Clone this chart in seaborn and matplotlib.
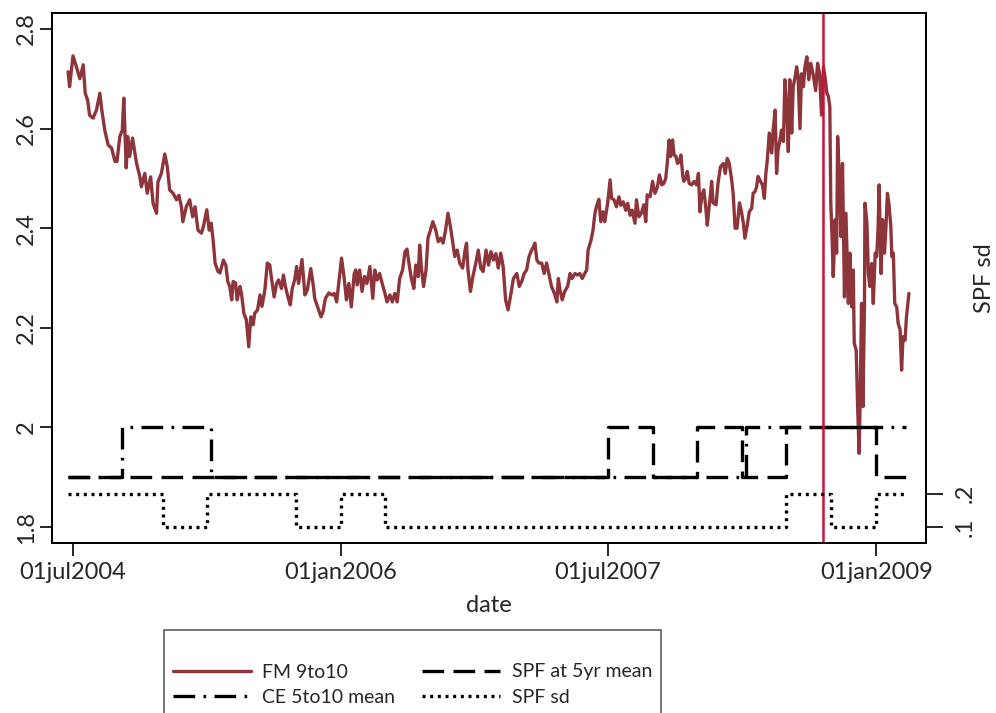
#!/usr/bin/env python3
# -*- coding: utf-8 -*-
# FM 9to10 forward rate against survey measures, 2004-2009

import seaborn as sns
import matplotlib
matplotlib.use('Agg')
import matplotlib.pyplot as plt
import pandas as pd

# FM 9to10
fm_dates = [
    '2004-06-21', '2004-06-24', '2004-07-01', '2004-07-08', '2004-07-15', '2004-07-22', '2004-07-26', '2004-07-31',
    '2004-08-04', '2004-08-11', '2004-08-18', '2004-08-25', '2004-08-29', '2004-09-04', '2004-09-11', '2004-09-18',
    '2004-09-25', '2004-09-29', '2004-10-05', '2004-10-10', '2004-10-13', '2004-10-18', '2004-10-21', '2004-10-25',
    '2004-10-31', '2004-11-08', '2004-11-15', '2004-11-18', '2004-11-25', '2004-11-30', '2004-12-07', '2004-12-12',
    '2004-12-19', '2004-12-22', '2004-12-29', '2005-01-05', '2005-01-10', '2005-01-15', '2005-01-22', '2005-01-29',
    '2005-02-03', '2005-02-08', '2005-02-11', '2005-02-18', '2005-02-25', '2005-03-03', '2005-03-08', '2005-03-14',
    '2005-03-21', '2005-03-25', '2005-04-01', '2005-04-06', '2005-04-10', '2005-04-14', '2005-04-18', '2005-04-24',
    '2005-04-28', '2005-05-05', '2005-05-10', '2005-05-14', '2005-05-18', '2005-05-22', '2005-05-25', '2005-05-30',
    '2005-06-02', '2005-06-08', '2005-06-11', '2005-06-16', '2005-06-21', '2005-06-26', '2005-06-30', '2005-07-05',
    '2005-07-08', '2005-07-14', '2005-07-19', '2005-07-23', '2005-07-29', '2005-08-03', '2005-08-08', '2005-08-12',
    '2005-08-17', '2005-08-22', '2005-08-26', '2005-09-01', '2005-09-05', '2005-09-09', '2005-09-15', '2005-09-19',
    '2005-09-23', '2005-09-28', '2005-10-02', '2005-10-06', '2005-10-13', '2005-10-19', '2005-10-24', '2005-10-31',
    '2005-11-05', '2005-11-08', '2005-11-15', '2005-11-21', '2005-11-25', '2005-11-30', '2005-12-07', '2005-12-13',
    '2005-12-18', '2005-12-23', '2005-12-28', '2006-01-02', '2006-01-07', '2006-01-12', '2006-01-17', '2006-01-22',
    '2006-01-28', '2006-01-31', '2006-02-03', '2006-02-08', '2006-02-13', '2006-02-18', '2006-02-23', '2006-03-01',
    '2006-03-07', '2006-03-11', '2006-03-16', '2006-03-21', '2006-03-27', '2006-04-01', '2006-04-05', '2006-04-11',
    '2006-04-16', '2006-04-21', '2006-04-26', '2006-05-01', '2006-05-07', '2006-05-12', '2006-05-16', '2006-05-20',
    '2006-05-25', '2006-05-30', '2006-06-03', '2006-06-08', '2006-06-11', '2006-06-15', '2006-06-19', '2006-06-24',
    '2006-06-28', '2006-07-03', '2006-07-08', '2006-07-14', '2006-07-19', '2006-07-24', '2006-07-29', '2006-08-03',
    '2006-08-08', '2006-08-13', '2006-08-17', '2006-08-22', '2006-08-27', '2006-09-01', '2006-09-07', '2006-09-12',
    '2006-09-15', '2006-09-18', '2006-09-23', '2006-09-28', '2006-10-04', '2006-10-09', '2006-10-14', '2006-10-19',
    '2006-10-25', '2006-10-30', '2006-11-04', '2006-11-09', '2006-11-14', '2006-11-19', '2006-11-24', '2006-11-29',
    '2006-12-04', '2006-12-09', '2006-12-15', '2006-12-20', '2006-12-27', '2007-01-01', '2007-01-06', '2007-01-11',
    '2007-01-16', '2007-01-21', '2007-01-25', '2007-01-30', '2007-02-02', '2007-02-06', '2007-02-10', '2007-02-16',
    '2007-02-21', '2007-02-26', '2007-03-03', '2007-03-08', '2007-03-14', '2007-03-19', '2007-03-22', '2007-03-26',
    '2007-03-30', '2007-04-04', '2007-04-10', '2007-04-15', '2007-04-19', '2007-04-25', '2007-04-30', '2007-05-05',
    '2007-05-10', '2007-05-15', '2007-05-19', '2007-05-22', '2007-05-28', '2007-06-01', '2007-06-05', '2007-06-08',
    '2007-06-13', '2007-06-17', '2007-06-22', '2007-06-25', '2007-07-01', '2007-07-06', '2007-07-09', '2007-07-14',
    '2007-07-19', '2007-07-24', '2007-07-28', '2007-08-02', '2007-08-07', '2007-08-11', '2007-08-16', '2007-08-20',
    '2007-08-26', '2007-08-29', '2007-09-03', '2007-09-08', '2007-09-13', '2007-09-17', '2007-09-20', '2007-09-26',
    '2007-10-01', '2007-10-06', '2007-10-11', '2007-10-15', '2007-10-20', '2007-10-24', '2007-10-28', '2007-10-31',
    '2007-11-04', '2007-11-07', '2007-11-11', '2007-11-14', '2007-11-18', '2007-11-21', '2007-11-25', '2007-11-28',
    '2007-12-02', '2007-12-04', '2007-12-08', '2007-12-11', '2007-12-15', '2007-12-20', '2007-12-25', '2007-12-30',
    '2008-01-03', '2008-01-06', '2008-01-10', '2008-01-14', '2008-01-18', '2008-01-21', '2008-01-27', '2008-01-30',
    '2008-02-02', '2008-02-08', '2008-02-12', '2008-02-17', '2008-02-23', '2008-02-27', '2008-03-02', '2008-03-06',
    '2008-03-11', '2008-03-14', '2008-03-18', '2008-03-22', '2008-03-27', '2008-03-31', '2008-04-04', '2008-04-07',
    '2008-04-12', '2008-04-16', '2008-04-21', '2008-04-24', '2008-04-28', '2008-05-01', '2008-05-04', '2008-05-09',
    '2008-05-13', '2008-05-17', '2008-05-20', '2008-05-23', '2008-05-27', '2008-06-01', '2008-06-04', '2008-06-08',
    '2008-06-11', '2008-06-14', '2008-06-18', '2008-06-21', '2008-06-25', '2008-06-28', '2008-07-02', '2008-07-05',
    '2008-07-08', '2008-07-12', '2008-07-15', '2008-07-19', '2008-07-22', '2008-07-25', '2008-07-29', '2008-08-01',
    '2008-08-05', '2008-08-08', '2008-08-12', '2008-08-16', '2008-08-20', '2008-08-25', '2008-08-30', '2008-09-03',
    '2008-09-07', '2008-09-11', '2008-09-15', '2008-09-18', '2008-09-22', '2008-09-25', '2008-09-28', '2008-09-30',
    '2008-10-03', '2008-10-05', '2008-10-09', '2008-10-12', '2008-10-14', '2008-10-18', '2008-10-21', '2008-10-24',
    '2008-10-26', '2008-10-28', '2008-10-31', '2008-11-02', '2008-11-05', '2008-11-08', '2008-11-12', '2008-11-15',
    '2008-11-17', '2008-11-21', '2008-11-24', '2008-11-27', '2008-11-29', '2008-12-02', '2008-12-05', '2008-12-08',
    '2008-12-09', '2008-12-13', '2008-12-16', '2008-12-19', '2008-12-23', '2008-12-26', '2008-12-30', '2009-01-02',
    '2009-01-05', '2009-01-07', '2009-01-11', '2009-01-14', '2009-01-18', '2009-01-21', '2009-01-24', '2009-01-27',
    '2009-01-31', '2009-02-02', '2009-02-05', '2009-02-08', '2009-02-12', '2009-02-15', '2009-02-19', '2009-02-22',
    '2009-02-25', '2009-03-01', '2009-03-04', '2009-03-09',
]
fm_values = [
    2.714, 2.684, 2.746, 2.724, 2.700, 2.728, 2.671, 2.657,
    2.627, 2.621, 2.637, 2.671, 2.637, 2.597, 2.567, 2.561,
    2.534, 2.534, 2.584, 2.597, 2.661, 2.521, 2.584, 2.544,
    2.581, 2.531, 2.503, 2.483, 2.510, 2.470, 2.503, 2.450,
    2.430, 2.493, 2.510, 2.549, 2.524, 2.477, 2.470, 2.457,
    2.466, 2.443, 2.413, 2.443, 2.457, 2.423, 2.443, 2.396,
    2.390, 2.403, 2.437, 2.396, 2.410, 2.376, 2.330, 2.313,
    2.310, 2.336, 2.326, 2.293, 2.283, 2.256, 2.293, 2.290,
    2.256, 2.283, 2.269, 2.229, 2.216, 2.162, 2.222, 2.206,
    2.229, 2.236, 2.266, 2.243, 2.276, 2.330, 2.326, 2.296,
    2.262, 2.289, 2.296, 2.279, 2.306, 2.283, 2.259, 2.246,
    2.279, 2.296, 2.323, 2.289, 2.337, 2.266, 2.276, 2.319,
    2.286, 2.259, 2.239, 2.222, 2.232, 2.259, 2.270, 2.266,
    2.269, 2.252, 2.296, 2.340, 2.303, 2.256, 2.289, 2.242,
    2.309, 2.316, 2.286, 2.316, 2.273, 2.303, 2.289, 2.323,
    2.259, 2.316, 2.296, 2.309, 2.286, 2.269, 2.252, 2.266,
    2.252, 2.269, 2.252, 2.299, 2.316, 2.353, 2.358, 2.330,
    2.299, 2.279, 2.326, 2.303, 2.366, 2.316, 2.283, 2.316,
    2.380, 2.396, 2.413, 2.396, 2.373, 2.380, 2.370, 2.396,
    2.430, 2.403, 2.376, 2.343, 2.356, 2.330, 2.320, 2.356,
    2.370, 2.316, 2.273, 2.303, 2.330, 2.356, 2.320, 2.313,
    2.356, 2.326, 2.353, 2.336, 2.349, 2.320, 2.350, 2.323,
    2.256, 2.236, 2.269, 2.299, 2.309, 2.283, 2.293, 2.309,
    2.316, 2.343, 2.353, 2.363, 2.370, 2.336, 2.330, 2.330,
    2.309, 2.330, 2.306, 2.283, 2.269, 2.252, 2.299, 2.273,
    2.256, 2.273, 2.283, 2.309, 2.299, 2.309, 2.306, 2.309,
    2.299, 2.309, 2.316, 2.356, 2.376, 2.396, 2.430, 2.443,
    2.458, 2.413, 2.433, 2.413, 2.450, 2.497, 2.460, 2.457,
    2.443, 2.463, 2.446, 2.453, 2.436, 2.450, 2.426, 2.436,
    2.410, 2.457, 2.423, 2.430, 2.447, 2.413, 2.467, 2.463,
    2.494, 2.470, 2.483, 2.507, 2.487, 2.490, 2.500, 2.530,
    2.577, 2.544, 2.577, 2.547, 2.544, 2.530, 2.534, 2.547,
    2.504, 2.494, 2.500, 2.514, 2.490, 2.487, 2.494, 2.487,
    2.510, 2.433, 2.467, 2.477, 2.441, 2.406, 2.463, 2.494,
    2.451, 2.447, 2.490, 2.523, 2.530, 2.510, 2.540, 2.530,
    2.497, 2.470, 2.400, 2.400, 2.451, 2.433, 2.410, 2.380,
    2.406, 2.433, 2.440, 2.470, 2.474, 2.483, 2.504, 2.494,
    2.487, 2.460, 2.510, 2.537, 2.591, 2.551, 2.597, 2.637,
    2.510, 2.557, 2.577, 2.597, 2.574, 2.698, 2.637, 2.554,
    2.698, 2.591, 2.684, 2.704, 2.724, 2.704, 2.600, 2.710,
    2.684, 2.724, 2.744, 2.698, 2.731, 2.708, 2.676, 2.731,
    2.710, 2.627, 2.724, 2.704, 2.671, 2.665, 2.644, 2.450,
    2.370, 2.303, 2.417, 2.350, 2.584, 2.490, 2.383, 2.530,
    2.397, 2.262, 2.430, 2.356, 2.249, 2.350, 2.242, 2.316,
    2.169, 2.155, 2.042, 1.948, 2.049, 2.249, 2.042, 2.249,
    2.450, 2.410, 2.309, 2.283, 2.329, 2.249, 2.350, 2.343,
    2.403, 2.487, 2.309, 2.417, 2.350, 2.403, 2.470, 2.450,
    2.403, 2.343, 2.350, 2.249, 2.242, 2.209, 2.196, 2.115,
    2.182, 2.175, 2.222, 2.269,
]

# SPF at 5yr mean (step, left axis)
spf5_dates = ['2004-06-21', '2007-07-01', '2007-10-01', '2008-01-01', '2008-04-01',
              '2008-07-01', '2009-01-01', '2009-03-09']
spf5_values = [1.9, 2.0, 1.9, 2.0, 1.9, 2.0, 1.9, 1.9]

# CE 5to10 mean (step, left axis)
ce_dates = ['2004-06-21', '2004-10-10', '2005-04-10', '2008-04-10', '2009-03-04']
ce_values = [1.9, 2.0, 1.9, 2.0, 2.0]

# SPF sd (step, right axis)
spfsd_dates = ['2004-06-21', '2005-01-01', '2005-04-01', '2005-10-01', '2006-01-01',
               '2006-04-01', '2008-07-01', '2008-10-01', '2009-01-01', '2009-03-04']
spfsd_values = [0.2, 0.1, 0.2, 0.1, 0.2, 0.1, 0.2, 0.1, 0.2, 0.2]

lehman_date = '2008-09-15'

xtick_dates = ['2004-07-01', '2006-01-01', '2007-07-01', '2009-01-01']
xtick_labels = ['01jul2004', '01jan2006', '01jul2007', '01jan2009']
ytick_values = [1.8, 2.0, 2.2, 2.4, 2.6, 2.8]
ytick_labels = ['1.8', '2', '2.2', '2.4', '2.6', '2.8']
y2tick_values = [0.1, 0.2]
y2tick_labels = ['.1', '.2']


def main():
    sns.set_theme(style='ticks')
    plt.rcParams['font.family'] = ['Lato', 'DejaVu Sans']

    fig = plt.figure(figsize=(9.96, 7.13), dpi=100)
    ax = fig.add_axes([52 / 996, 1 - 543 / 713, 874 / 996, 530 / 713])
    ax2 = ax.twinx()

    fm_color = '#8E353C'
    lw = 2.4

    sns.lineplot(x=pd.to_datetime(fm_dates), y=fm_values, ax=ax, color=fm_color,
                 linewidth=lw, label='FM 9to10', zorder=2)
    sns.lineplot(x=pd.to_datetime(ce_dates), y=ce_values, ax=ax, color='black',
                 linewidth=lw, drawstyle='steps-post', label='CE 5to10 mean',
                 linestyle=(0, (6.5, 2.5, 0.8, 2.5)), zorder=3)
    sns.lineplot(x=pd.to_datetime(spf5_dates), y=spf5_values, ax=ax, color='black',
                 linewidth=lw, drawstyle='steps-post', label='SPF at 5yr mean',
                 linestyle=(0, (6.5, 2.8)), zorder=3)
    sns.lineplot(x=pd.to_datetime(spfsd_dates), y=spfsd_values, ax=ax2, color='black',
                 linewidth=lw, drawstyle='steps-post', label='SPF sd',
                 linestyle=(0, (0.9, 1.4)))

    ax.axvline(pd.to_datetime(lehman_date), color='#D0103A', linewidth=1.8, zorder=4)

    ax.set_xlim(pd.to_datetime('2004-05-19'), pd.to_datetime('2009-04-13'))
    ax.set_ylim(1.768, 2.832)
    ax2.set_ylim(0.052, 1.642)

    ax.set_xticks(pd.to_datetime(xtick_dates))
    ax.set_xticklabels(xtick_labels, fontsize=17)
    ax.set_yticks(ytick_values)
    ax.set_yticklabels(ytick_labels, fontsize=17, rotation=90, va='center')
    ax2.set_yticks(y2tick_values)
    ax2.set_yticklabels(y2tick_labels, fontsize=17, rotation=90, va='center')

    ax.tick_params(axis='x', length=9, width=1.2, color='black', pad=5)
    ax.tick_params(axis='y', length=9, width=1.2, color='black', pad=2)
    ax2.tick_params(axis='y', length=12, width=1.2, color='black', pad=9)
    for a in (ax, ax2):
        for sp in a.spines.values():
            sp.set_linewidth(1.3)
            sp.set_color('black')

    ax.set_xlabel('date', fontsize=17, labelpad=8)
    ax.set_ylabel('')
    ax2.set_ylabel('SPF sd', fontsize=17, rotation=90, va='center', ha='center')
    ax2.yaxis.set_label_coords(1.067, 0.5)

    handles, labels = [], []
    for a in (ax, ax2):
        h, l = a.get_legend_handles_labels()
        handles += h
        labels += l
        if a.get_legend() is not None:
            a.get_legend().remove()

    leg = fig.legend(handles, labels, loc='upper left', bbox_to_anchor=(164 / 996, 1 - 630 / 713),
                     ncol=2, frameon=True, fancybox=False, fontsize=14, title=' ',
                     title_fontsize=13, handlelength=4.0, handletextpad=0.6,
                     columnspacing=1.4, labelspacing=0.45, borderpad=0.45,
                     borderaxespad=0)
    leg.get_frame().set_edgecolor('#333333')
    leg.get_frame().set_linewidth(1.2)

    fig.savefig('out.png', dpi=100)


if __name__ == '__main__':
    main()
